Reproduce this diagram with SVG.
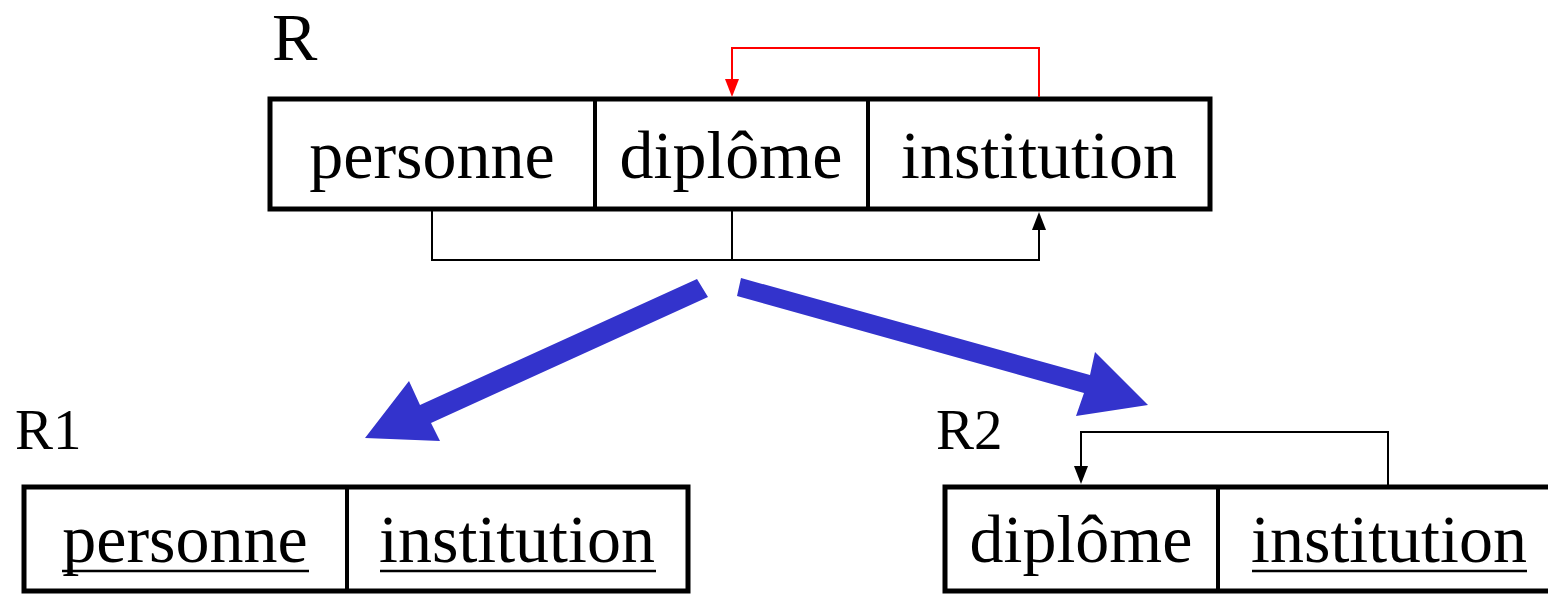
<svg xmlns="http://www.w3.org/2000/svg" width="1548" height="594" viewBox="0 0 1548 594">
<style>
text{font-family:"Liberation Serif","Times New Roman",serif;fill:#000}
.cell{font-size:68px;text-anchor:middle}
.lbl{font-size:57px}
.lblR{font-size:68px}
.box{fill:#fff;stroke:#000;stroke-width:5}
.div{stroke:#000;stroke-width:4}
.k{fill:none;stroke:#000;stroke-width:2}
.r{fill:none;stroke:#f00;stroke-width:2}
.u{stroke:#000;stroke-width:2.5}
.blue{fill:#3333cc}
</style>
<g id="R">
<text class="lblR" x="272" y="60">R</text>
<rect class="box" x="270" y="99" width="940" height="110"/>
<line class="div" x1="595" y1="99" x2="595" y2="209"/>
<line class="div" x1="868" y1="99" x2="868" y2="209"/>
<text class="cell" x="432" y="178">personne</text>
<text class="cell" x="731" y="178">diplôme</text>
<text class="cell" x="1039" y="178">institution</text>
</g>
<g id="R1">
<text class="lbl" x="15" y="449">R1</text>
<rect class="box" x="24" y="487" width="664" height="104"/>
<line class="div" x1="347" y1="487" x2="347" y2="591"/>
<text class="cell" x="185" y="562">personne</text>
<line class="u" x1="62" y1="571" x2="309" y2="571"/>
<text class="cell" x="517" y="562">institution</text>
<line class="u" x1="380" y1="571" x2="656" y2="571"/>
</g>
<g id="R2">
<text class="lbl" x="936" y="449">R2</text>
<rect class="box" x="945" y="487" width="620" height="104"/>
<line class="div" x1="1218" y1="487" x2="1218" y2="591"/>
<text class="cell" x="1081" y="562">diplôme</text>
<text class="cell" x="1389" y="562">institution</text>
<line class="u" x1="1252" y1="571" x2="1527" y2="571"/>
</g>
<g id="connectors">
<path class="r" d="M1039,97 V48 H732 V82"/>
<path d="M725,79 L739,79 L732,97 Z" fill="#f00"/>
<path class="k" d="M432,211 V260 H1039 V228"/>
<line class="k" x1="732" y1="211" x2="732" y2="260"/>
<path d="M1032,230 L1046,230 L1039,212 Z" fill="#000"/>
<path class="k" d="M1388,485 V432 H1081 V468"/>
<path d="M1074,466 L1088,466 L1081,484 Z" fill="#000"/>
<polygon class="blue" points="697,279 708,297 431,423 440,441 365,438 409,381 420,405"/>
<polygon class="blue" points="741,278 1090,375 1095,352 1148,405 1076,416 1084,393 737,296"/>
</g>
</svg>
